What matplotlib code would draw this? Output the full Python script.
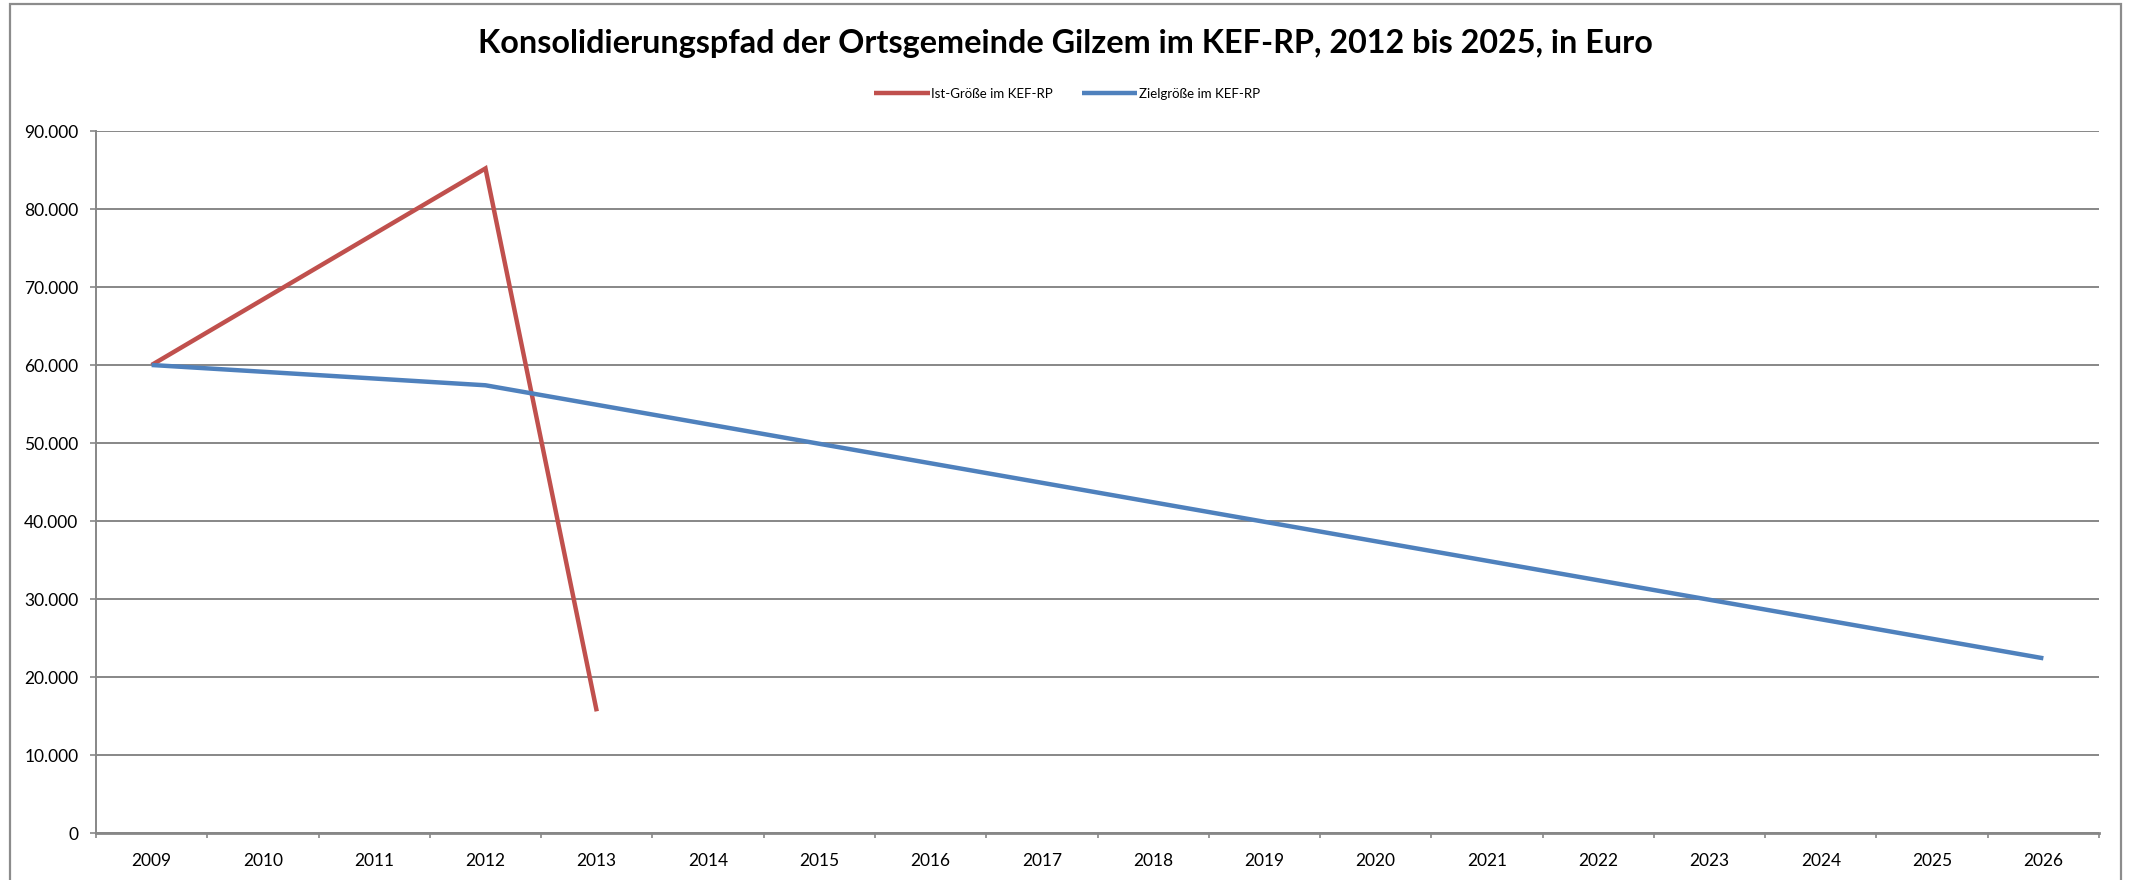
import numpy as np
import matplotlib
matplotlib.use("Agg")
import matplotlib.pyplot as plt
from matplotlib.patches import Rectangle
from matplotlib.ticker import FuncFormatter, FixedLocator

plt.rcParams['font.family'] = ['Lato', 'DejaVu Sans']

years = [str(y) for y in range(2009, 2027)]
ist_werte = [60000, None, None, 85200, 15600] + [None] * 13
ziel_werte = [60000, None, None, 57400, 54900, 52400, 49900, 47400, 44900,
              42400, 39900, 37400, 34900, 32400, 29900, 27400, 24900, 22400]
serien_namen = ["Ist-Größe im KEF-RP", "Zielgröße im KEF-RP"]
farben = ["#C0504D", "#4F81BD"]
titel = "Konsolidierungspfad der Ortsgemeinde Gilzem im KEF-RP, 2012 bis 2025, in Euro"

W, H = 2147, 880
fig = plt.figure(figsize=(W / 100, H / 100), dpi=100)
fig.patch.set_facecolor("white")

# chart area frame
fig.add_artist(Rectangle((10 / W, -0.01), (2121 - 10) / W, 1 - 4.5 / H + 0.01,
                         transform=fig.transFigure, fill=False,
                         edgecolor="#8c8c8c", linewidth=1.6, clip_on=False))

ax = fig.add_axes([96 / W, (H - 833) / H, (2099 - 96) / W, (833 - 131) / H])

x = np.arange(len(years))
for werte, name, farbe in zip([ist_werte, ziel_werte], serien_namen, farben):
    arr = np.array([np.nan if v is None else v for v in werte], dtype=float)
    m = ~np.isnan(arr)
    ax.plot(x[m], arr[m], color=farbe, linewidth=3.2, label=name,
            solid_joinstyle="miter", solid_capstyle="butt")

ax.set_xlim(-0.5, len(years) - 0.5)
ax.set_ylim(0, 90000)
ax.set_yticks(np.arange(0, 90001, 10000))
ax.yaxis.set_major_formatter(FuncFormatter(lambda v, p: f"{int(v):,}".replace(",", ".")))
ax.yaxis.grid(True, color="#878787", linewidth=1.4)
ax.set_axisbelow(True)

ax.set_xticks(x)
ax.set_xticklabels(years)
ax.xaxis.set_minor_locator(FixedLocator(np.arange(-0.5, len(years), 1.0)))
ax.tick_params(axis="x", which="major", length=0, pad=14.5, labelsize=12.5)
ax.tick_params(axis="x", which="minor", length=3.8, width=1.2, color="#878787", direction="out")
ax.tick_params(axis="y", length=4.3, width=1.2, color="#878787", pad=8.4, labelsize=12.5)

for s in ["top", "right"]:
    ax.spines[s].set_visible(False)
ax.spines["left"].set_color("#878787")
ax.spines["left"].set_linewidth(1.4)
ax.spines["bottom"].set_color("#878787")
ax.spines["bottom"].set_linewidth(2.0)

fig.text(1065 / W, 1 - 43 / H, titel, ha="center", va="center",
         fontsize=23.3, fontweight="bold", color="black")

fig.legend(loc="center", bbox_to_anchor=(1067 / W, 1 - 94 / H), ncol=2,
           frameon=False, fontsize=9.5, handlelength=4.2, handletextpad=0.1,
           columnspacing=2.2, borderaxespad=0)

fig.savefig("out.png", dpi=100, facecolor="white")
